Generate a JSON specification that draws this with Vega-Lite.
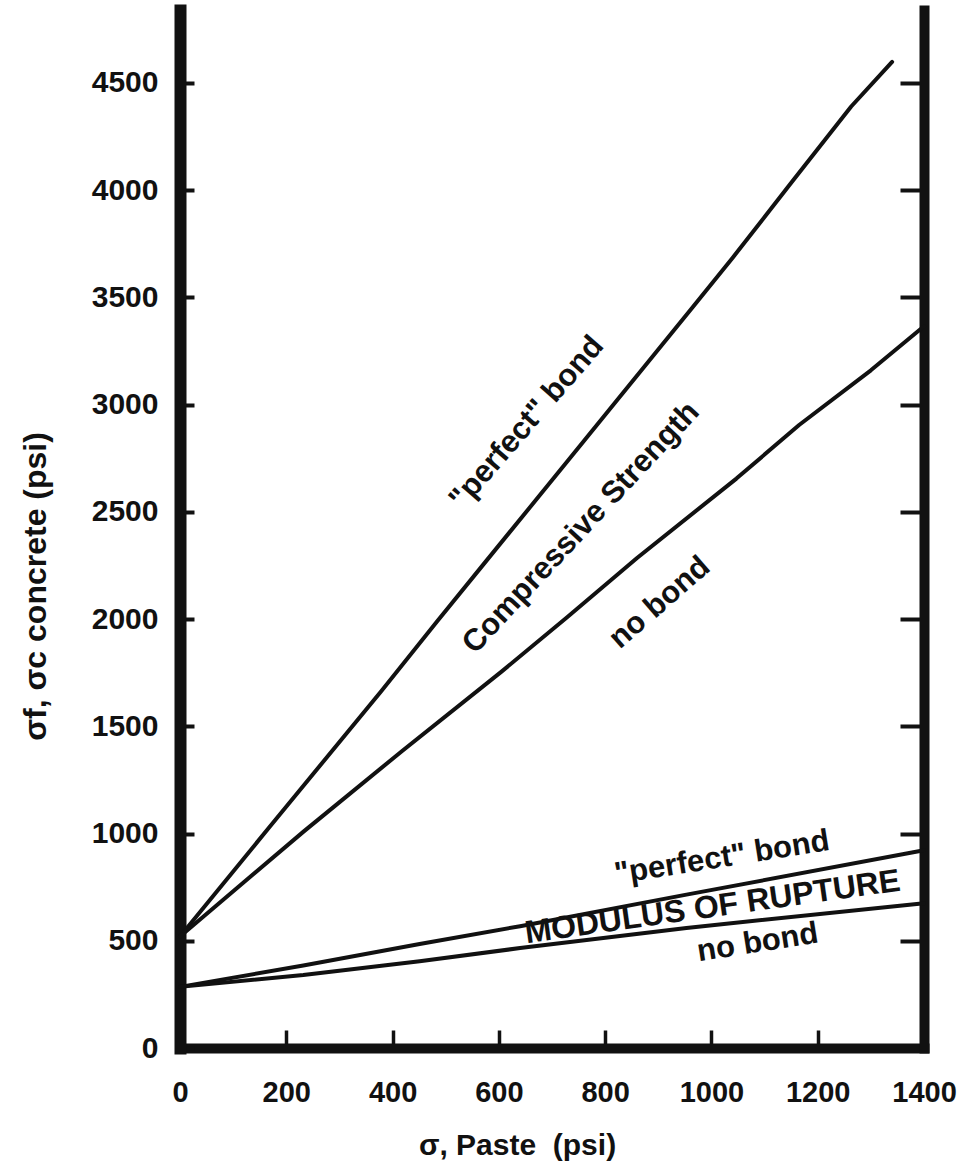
{
  "$schema": "https://vega.github.io/schema/vega-lite/v6.json",
  "autosize": {"type": "none"},
  "padding": {"left": 180, "top": 10, "right": 44, "bottom": 128},
  "width": 744,
  "height": 1038,
  "background": "#ffffff",
  "config": {
    "view": {"stroke": null},
    "font": "Liberation Sans",
    "text": {"font": "Liberation Sans", "fontWeight": "bold", "fontSize": 31, "fill": "#111111", "align": "center", "baseline": "middle"}
  },
  "datasets": {
    "curves": [
      {"series": "Compressive perfect bond", "x": 0, "y": 520},
      {"series": "Compressive perfect bond", "x": 170, "y": 1035},
      {"series": "Compressive perfect bond", "x": 379, "y": 1665},
      {"series": "Compressive perfect bond", "x": 484, "y": 1990},
      {"series": "Compressive perfect bond", "x": 571, "y": 2255},
      {"series": "Compressive perfect bond", "x": 760, "y": 2830},
      {"series": "Compressive perfect bond", "x": 965, "y": 3455},
      {"series": "Compressive perfect bond", "x": 1040, "y": 3685},
      {"series": "Compressive perfect bond", "x": 1152, "y": 4040},
      {"series": "Compressive perfect bond", "x": 1263, "y": 4390},
      {"series": "Compressive perfect bond", "x": 1340, "y": 4598},
      {"series": "Compressive no bond", "x": 0, "y": 520},
      {"series": "Compressive no bond", "x": 233, "y": 1010},
      {"series": "Compressive no bond", "x": 418, "y": 1385},
      {"series": "Compressive no bond", "x": 605, "y": 1755},
      {"series": "Compressive no bond", "x": 729, "y": 2010},
      {"series": "Compressive no bond", "x": 860, "y": 2285},
      {"series": "Compressive no bond", "x": 1047, "y": 2655},
      {"series": "Compressive no bond", "x": 1165, "y": 2905},
      {"series": "Compressive no bond", "x": 1300, "y": 3160},
      {"series": "Compressive no bond", "x": 1400, "y": 3365},
      {"series": "MOR perfect bond", "x": 0, "y": 285},
      {"series": "MOR perfect bond", "x": 232, "y": 385},
      {"series": "MOR perfect bond", "x": 451, "y": 485},
      {"series": "MOR perfect bond", "x": 640, "y": 568},
      {"series": "MOR perfect bond", "x": 953, "y": 715},
      {"series": "MOR perfect bond", "x": 1400, "y": 922},
      {"series": "MOR no bond", "x": 0, "y": 285},
      {"series": "MOR no bond", "x": 232, "y": 340},
      {"series": "MOR no bond", "x": 451, "y": 405},
      {"series": "MOR no bond", "x": 640, "y": 466},
      {"series": "MOR no bond", "x": 953, "y": 560},
      {"series": "MOR no bond", "x": 1400, "y": 675}
    ]
  },
  "resolve": {"axis": {"y": "independent"}},
  "layer": [
    {
      "data": {"name": "curves"},
      "mark": {"type": "line", "stroke": "#111111", "strokeWidth": 4, "strokeCap": "round", "strokeJoin": "round"},
      "encoding": {
        "detail": {"field": "series"},
        "x": {
          "field": "x", "type": "quantitative",
          "title": "σ, Paste\u00a0 (psi)",
          "scale": {"domain": [0, 1400], "nice": false, "zero": false},
          "axis": {
            "orient": "bottom",
            "values": [0, 200, 400, 600, 800, 1000, 1200, 1400],
            "format": "d",
            "grid": false,
            "domainWidth": 10, "domainColor": "#111111", "domainCap": "square",
            "tickSize": -18, "tickWidth": 3.5, "tickColor": "#111111",
            "labelFont": "Liberation Sans", "labelFontWeight": "bold", "labelFontSize": 29, "labelColor": "#111111",
            "labelPadding": 48, "labelFlush": false, "labelOverlap": false, "labelBound": false,
            "titleFont": "Liberation Sans", "titleFontWeight": "bold", "titleFontSize": 30, "titleColor": "#111111",
            "titleX": 337, "titleY": 97, "titleAlign": "center", "titleBaseline": "middle"
          }
        },
        "y": {
          "field": "y", "type": "quantitative",
          "title": "σf, σc concrete (psi)",
          "scale": {"domain": [0, 4840], "nice": false, "zero": false},
          "axis": {
            "orient": "left",
            "values": [0, 500, 1000, 1500, 2000, 2500, 3000, 3500, 4000, 4500],
            "format": "d",
            "grid": false,
            "domainWidth": 12, "domainColor": "#111111", "domainCap": "square",
            "tickSize": -14, "tickWidth": 4, "tickColor": "#111111",
            "labelFont": "Liberation Sans", "labelFontWeight": "bold", "labelFontSize": 30, "labelColor": "#111111",
            "labelPadding": 36, "labelFlush": false, "labelOverlap": false, "labelBound": false,
            "titleFont": "Liberation Sans", "titleFontWeight": "bold", "titleFontSize": 32, "titleColor": "#111111",
            "titleX": -145, "titleY": 576, "titleAngle": 270, "titleAlign": "center", "titleBaseline": "middle"
          }
        }
      }
    },
    {
      "data": {"name": "curves"},
      "mark": {"type": "point", "opacity": 0},
      "encoding": {
        "x": {"field": "x", "type": "quantitative", "title": "σ, Paste\u00a0 (psi)"},
        "y": {
          "field": "y", "type": "quantitative",
          "axis": {
            "orient": "right",
            "values": [500, 1000, 1500, 2000, 2500, 3000, 3500, 4000, 4500],
            "grid": false, "labels": false, "title": null,
            "domainWidth": 10, "domainColor": "#111111", "domainCap": "square",
            "tickSize": -24, "tickWidth": 4, "tickColor": "#111111"
          }
        }
      }
    },
    {
      "data": {"values": [
        {"x": 653, "y": 2915, "label": "\"perfect\" bond"}
      ]},
      "mark": {"type": "text", "angle": -49},
      "encoding": {
        "x": {"field": "x", "type": "quantitative", "title": "σ, Paste\u00a0 (psi)"},
        "y": {"field": "y", "type": "quantitative", "axis": null},
        "text": {"field": "label"}
      }
    },
    {
      "data": {"values": [
        {"x": 755, "y": 2425, "label": "Compressive Strength"}
      ]},
      "mark": {"type": "text", "angle": -47},
      "encoding": {
        "x": {"field": "x", "type": "quantitative", "title": "σ, Paste\u00a0 (psi)"},
        "y": {"field": "y", "type": "quantitative", "axis": null},
        "text": {"field": "label"}
      }
    },
    {
      "data": {"values": [
        {"x": 903, "y": 2076, "label": "no bond"}
      ]},
      "mark": {"type": "text", "angle": -41},
      "encoding": {
        "x": {"field": "x", "type": "quantitative", "title": "σ, Paste\u00a0 (psi)"},
        "y": {"field": "y", "type": "quantitative", "axis": null},
        "text": {"field": "label"}
      }
    },
    {
      "data": {"values": [
        {"x": 1020, "y": 886, "label": "\"perfect\" bond"}
      ]},
      "mark": {"type": "text", "angle": -9},
      "encoding": {
        "x": {"field": "x", "type": "quantitative", "title": "σ, Paste\u00a0 (psi)"},
        "y": {"field": "y", "type": "quantitative", "axis": null},
        "text": {"field": "label"}
      }
    },
    {
      "data": {"values": [
        {"x": 1002, "y": 658, "label": "MODULUS OF RUPTURE"}
      ]},
      "mark": {"type": "text", "angle": -8, "fontSize": 32},
      "encoding": {
        "x": {"field": "x", "type": "quantitative", "title": "σ, Paste\u00a0 (psi)"},
        "y": {"field": "y", "type": "quantitative", "axis": null},
        "text": {"field": "label"}
      }
    },
    {
      "data": {"values": [
        {"x": 1087, "y": 490, "label": "no bond"}
      ]},
      "mark": {"type": "text", "angle": -9},
      "encoding": {
        "x": {"field": "x", "type": "quantitative", "title": "σ, Paste\u00a0 (psi)"},
        "y": {"field": "y", "type": "quantitative", "axis": null},
        "text": {"field": "label"}
      }
    }
  ]
}
